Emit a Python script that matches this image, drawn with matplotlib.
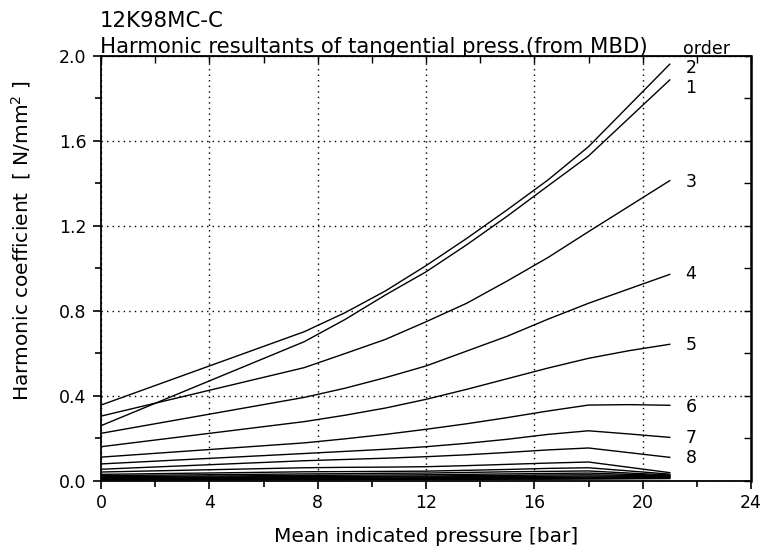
import matplotlib
matplotlib.use("Agg")
import matplotlib.pyplot as plt
from matplotlib.ticker import MultipleLocator, FormatStrFormatter

plt.rcParams['font.family'] = ['DejaVu Sans']

mip = [0, 7.5, 9, 10.5, 12, 13.5, 15, 16.5, 18, 19.5, 21]

order_1 = [0.259, 0.654, 0.758, 0.874, 0.983, 1.110, 1.245, 1.387, 1.528, 1.707, 1.886]
order_2 = [0.356, 0.701, 0.790, 0.893, 1.012, 1.140, 1.275, 1.415, 1.572, 1.766, 1.960]
order_3 = [0.304, 0.532, 0.598, 0.665, 0.748, 0.835, 0.940, 1.050, 1.172, 1.292, 1.412]
order_4 = [0.223, 0.392, 0.435, 0.485, 0.540, 0.610, 0.680, 0.760, 0.835, 0.903, 0.971]
order_5 = [0.160, 0.278, 0.308, 0.342, 0.383, 0.430, 0.480, 0.530, 0.576, 0.612, 0.642]
order_6 = [0.111, 0.178, 0.197, 0.218, 0.242, 0.268, 0.297, 0.328, 0.356, 0.358, 0.355]
order_7 = [0.079, 0.128, 0.138, 0.148, 0.160, 0.176, 0.195, 0.218, 0.235, 0.220, 0.204]
order_8 = [0.054, 0.094, 0.100, 0.106, 0.113, 0.122, 0.133, 0.145, 0.154, 0.132, 0.110]
order_9 = [0.041, 0.061, 0.063, 0.064, 0.066, 0.071, 0.077, 0.083, 0.088, 0.063, 0.038]
order_10 = [0.030, 0.042, 0.043, 0.044, 0.045, 0.049, 0.053, 0.058, 0.061, 0.046, 0.031]
order_11 = [0.024, 0.032, 0.033, 0.035, 0.036, 0.039, 0.042, 0.044, 0.046, 0.036, 0.027]
order_12 = [0.019, 0.025, 0.026, 0.027, 0.028, 0.030, 0.032, 0.034, 0.036, 0.030, 0.024]
order_13 = [0.015, 0.020, 0.020, 0.021, 0.022, 0.024, 0.025, 0.027, 0.028, 0.025, 0.022]
order_14 = [0.012, 0.016, 0.016, 0.017, 0.018, 0.019, 0.020, 0.021, 0.022, 0.021, 0.020]
order_15 = [0.009, 0.012, 0.013, 0.013, 0.014, 0.015, 0.016, 0.016, 0.017, 0.017, 0.018]
order_16 = [0.007, 0.009, 0.010, 0.010, 0.011, 0.012, 0.012, 0.013, 0.013, 0.014, 0.016]
order_17 = [0.005, 0.007, 0.007, 0.008, 0.008, 0.009, 0.009, 0.010, 0.010, 0.011, 0.013]
order_18 = [0.004, 0.005, 0.005, 0.006, 0.006, 0.006, 0.007, 0.007, 0.008, 0.009, 0.010]

series = [order_1, order_2, order_3, order_4, order_5, order_6, order_7, order_8, order_9,
          order_10, order_11, order_12, order_13, order_14, order_15, order_16, order_17, order_18]

label_text = ["2", "1", "3", "4", "5", "6", "7", "8"]
label_y = [1.944, 1.848, 1.407, 0.973, 0.639, 0.348, 0.201, 0.107]

fig = plt.figure(figsize=(7.63, 5.53), dpi=100)
ax = fig.add_axes([0.1324, 0.1307, 0.9843 - 0.1324, 0.8993 - 0.1307])

for s in series:
    ax.plot(mip, s, color='black', lw=1.0)

ax.set_xlim(0, 24)
ax.set_ylim(0, 2.0)
ax.xaxis.set_major_locator(MultipleLocator(4))
ax.xaxis.set_minor_locator(MultipleLocator(2))
ax.yaxis.set_major_locator(MultipleLocator(0.4))
ax.yaxis.set_minor_locator(MultipleLocator(0.2))
ax.yaxis.set_major_formatter(FormatStrFormatter('%.1f'))

ax.grid(True, which='major', color='black', linestyle=(0, (1, 3)), lw=1.0)
ax.tick_params(axis='both', which='major', direction='out', length=5.5, width=1.2,
               labelsize=12.5, colors='black')
ax.tick_params(axis='both', which='minor', direction='out', length=4.5, width=1.2)
ax.tick_params(axis='x', which='major', pad=4)
ax.tick_params(axis='y', which='major', pad=5)

for sp in ['left', 'bottom', 'top']:
    ax.spines[sp].set_linewidth(1.3)
ax.spines['right'].set_linewidth(1.8)

top = ax.secondary_xaxis('top')
top.xaxis.set_major_locator(MultipleLocator(4))
top.xaxis.set_minor_locator(MultipleLocator(2))
top.tick_params(axis='x', which='both', direction='in', length=5, width=1.0, labeltop=False)
right = ax.secondary_yaxis('right')
right.yaxis.set_major_locator(MultipleLocator(0.4))
right.yaxis.set_minor_locator(MultipleLocator(0.2))
right.tick_params(axis='y', which='both', direction='in', length=5, width=1.0, labelright=False)

for t, y in zip(label_text, label_y):
    ax.text(21.58, y, t, fontsize=12.5, ha='left', va='center')
ax.text(22.35, 2.007, "order", fontsize=12.5, ha='center', va='baseline', clip_on=False)

ax.set_xlabel("Mean indicated pressure [bar]", fontsize=14.5)
ax.xaxis.set_label_coords(0.5, -0.108)
ax.set_ylabel("Harmonic coefficient  [ N/mm$^2$ ]", fontsize=14.5)
ax.yaxis.set_label_coords(-0.105, 0.565)

fig.text(100 / 763, 1 - 26.7 / 553, "12K98MC-C", fontsize=15.3, ha='left', va='baseline')
fig.text(100 / 763, 1 - 53 / 553, "Harmonic resultants of tangential press.(from MBD)",
         fontsize=15.3, ha='left', va='baseline')

fig.savefig("out.png", dpi=100)
